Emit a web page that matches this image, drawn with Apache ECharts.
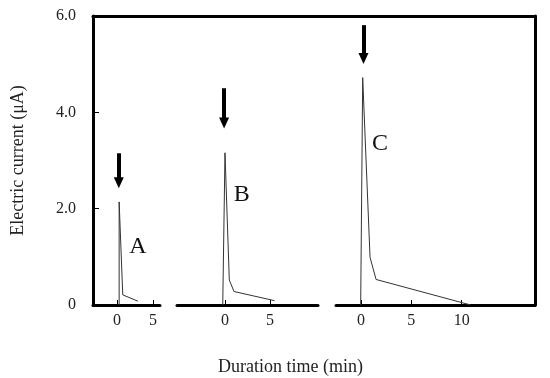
<!DOCTYPE html>
<html>
<head>
<meta charset="utf-8">
<script src="https://cdn.jsdelivr.net/npm/echarts@6/dist/echarts.min.js"></script>
<style>html,body{margin:0;padding:0;background:#fff}#c{width:550px;height:378px}</style>
</head>
<body>
<div id="c"></div>
<script>
// Data (time in min, current in µA)
const timeA = [0.3, 0.3, 0.8, 2.9];
const currentA = [0, 2.14, 0.21, 0.08];
const timeB = [-0.25, 0, 0.48, 1.0, 5.5];
const currentB = [0, 3.16, 0.52, 0.28, 0.09];
const timeC = [-0.03, 0.17, 0.9, 1.5, 10.9];
const currentC = [0, 4.72, 0.99, 0.53, 0];
const panelNames = ['A', 'B', 'C'];
const labelTime = [2.9, 1.86, 1.9];
const labelCurrent = [1.22, 2.3, 3.35];
const arrowTime = [0.25, -0.1, 0.25];
const arrowStart = [3.15, 4.5, 5.81];
const arrowEnd = [2.54, 3.78, 5.12];
const xTicksA = [0, 5];
const xTicksB = [0, 5];
const xTicksC = [0, 5, 10];
const yTicks = [0, 2, 4, 6];
const yTickLabels = ['0', '2.0', '4.0', '6.0'];

const FONT = 'Liberation Serif';
const times = [timeA, timeB, timeC];
const currents = [currentA, currentB, currentC];
const xTicks = [xTicksA, xTicksB, xTicksC];
const xRanges = [[-3.33, 5.97], [-5.33, 10.33], [-2.48, 17.28]];
const grids = [
  {left: 93, top: 16, width: 67, height: 289},
  {left: 177, top: 16, width: 141, height: 289},
  {left: 336, top: 16, width: 199, height: 289},
  {left: 93, top: 16, width: 442, height: 289}
];

const xAxis = [0, 1, 2].map(i => ({
  gridIndex: i, type: 'value', min: xRanges[i][0], max: xRanges[i][1],
  axisLine: {show: true, onZero: false, lineStyle: {color: '#000', width: 3}},
  axisTick: {show: true, inside: true, length: 5, customValues: xTicks[i], lineStyle: {color: '#000', width: 1}},
  axisLabel: {show: true, customValues: xTicks[i], margin: 8, color: '#222', fontFamily: FONT, fontSize: 16},
  splitLine: {show: false}
}));
xAxis.push({
  gridIndex: 3, type: 'value', position: 'top', min: 0, max: 1,
  axisLine: {show: true, onZero: false, lineStyle: {color: '#000', width: 3}},
  axisTick: {show: false}, axisLabel: {show: false}, splitLine: {show: false}
});

const yAxis = [{
  gridIndex: 0, type: 'value', min: 0, max: 6, interval: 2,
  name: 'Electric current (\u03bcA)', nameLocation: 'middle', nameGap: 66, nameRotate: 90,
  nameTextStyle: {color: '#222', fontFamily: FONT, fontSize: 18},
  axisLine: {show: true, onZero: false, lineStyle: {color: '#000', width: 3}},
  axisTick: {show: true, inside: true, length: 6, lineStyle: {color: '#000', width: 1}},
  axisLabel: {margin: 17, color: '#222', fontFamily: FONT, fontSize: 16,
    formatter: v => yTickLabels[yTicks.indexOf(v)]},
  splitLine: {show: false}
}];
[1, 2].forEach(i => yAxis.push({gridIndex: i, type: 'value', min: 0, max: 6, show: false}));
yAxis.push({
  gridIndex: 3, type: 'value', position: 'right', min: 0, max: 6,
  axisLine: {show: true, onZero: false, lineStyle: {color: '#000', width: 3}},
  axisTick: {show: false}, axisLabel: {show: false}, splitLine: {show: false}
});

const series = [0, 1, 2].map(i => ({
  type: 'line', xAxisIndex: i, yAxisIndex: i,
  data: times[i].map((t, k) => [t, currents[i][k]]),
  showSymbol: false, symbol: 'none',
  lineStyle: {color: '#333', width: 1},
  silent: true,
  markLine: {
    silent: true, animation: false,
    symbol: ['none', 'triangle'], symbolSize: [10, 11],
    label: {show: false},
    lineStyle: {color: '#000', width: 4, type: 'solid'},
    data: [[{coord: [arrowTime[i], arrowStart[i]]}, {coord: [arrowTime[i], arrowEnd[i]]}]]
  },
  markPoint: {
    silent: true, animation: false,
    symbol: 'circle', symbolSize: 0,
    label: {show: true, position: 'inside', formatter: panelNames[i], color: '#111', fontFamily: FONT, fontSize: 24},
    data: [{coord: [labelTime[i], labelCurrent[i]]}]
  }
}));

const chart = echarts.init(document.getElementById('c'), null, {renderer: 'canvas'});
chart.setOption({
  animation: false,
  backgroundColor: '#fff',
  title: {text: 'Duration time (min)', left: 213, top: 353,
    textStyle: {color: '#222', fontFamily: FONT, fontSize: 18, fontWeight: 'normal'}},
  grid: grids,
  xAxis: xAxis,
  yAxis: yAxis,
  series: series
});
</script>
</body>
</html>
